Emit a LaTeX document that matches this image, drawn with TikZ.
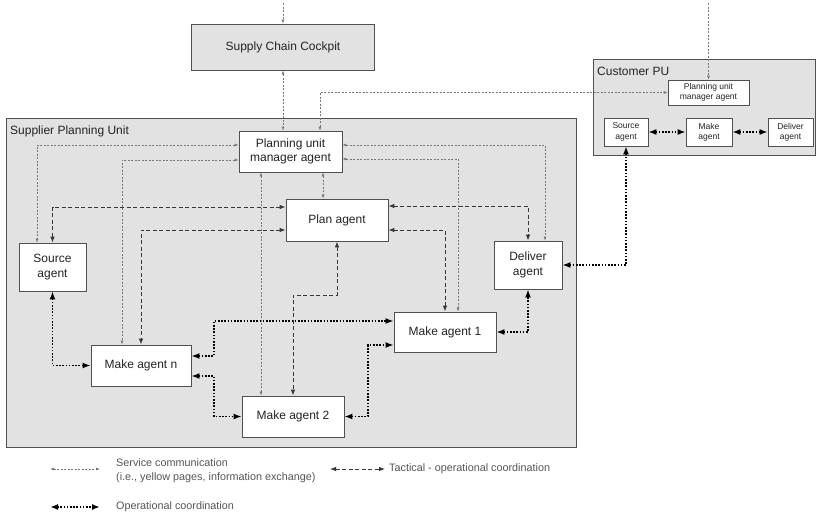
\documentclass[tikz,border=0pt]{standalone}
\usepackage{fontspec}
\setmainfont{Liberation Sans}
\usetikzlibrary{arrows.meta}
\definecolor{shade}{RGB}{226,226,226}
\definecolor{edge}{RGB}{80,80,80}
\definecolor{ink}{RGB}{35,35,35}
\definecolor{svcgray}{RGB}{120,120,120}
\definecolor{tacgray}{RGB}{55,55,55}
\definecolor{leggray}{RGB}{85,85,85}
\begin{document}
\begin{tikzpicture}[x=1pt,y=-1pt,
  panel/.style={draw=edge, line width=0.9pt, fill=shade, inner sep=0pt, text=ink, font=\fontsize{12}{14}\selectfont},
  box/.style={draw=edge, line width=0.8pt, fill=white, inner sep=0pt, align=center, text=ink, font=\fontsize{12}{14.5}\selectfont},
  small/.style={box, line width=0.6pt, font=\fontsize{8.5}{10.4}\selectfont},
  lbl/.style={inner sep=0pt, text=ink, font=\fontsize{12}{14}\selectfont},
  legend/.style={inner sep=0pt, align=left, text=leggray, font=\fontsize{10.8}{14}\selectfont},
  svc/.style={draw=svcgray, line width=0.6pt, dash pattern=on 2pt off 1.5pt, >={Latex[length=4pt,width=3pt]}, <->},
  tac/.style={draw=tacgray, line width=0.9pt, dash pattern=on 4pt off 2.5pt, >={Latex[length=6pt,width=4.5pt]}, <->},
  ops/.style={draw=black, line width=1.6pt, dash pattern=on 1.6pt off 1.6pt, >={Latex[length=8pt,width=6pt]}, <->}
]
\fill[white] (0,0) rectangle (817,517);
\useasboundingbox (0,0) rectangle (817,517);

% panels
\node[panel, minimum width=183pt, minimum height=46pt] (cockpit) at (283,47) {Supply Chain Cockpit};
\node[panel, minimum width=570pt, minimum height=329pt] (spu) at (291,282.5) {};
\node[lbl, anchor=base west] (spulabel) at (10,134) {Supplier Planning Unit};
\node[panel, minimum width=222pt, minimum height=96pt] (cpu) at (704,107) {};
\node[lbl, anchor=base west] (cpulabel) at (597,75) {Customer PU};

% supplier agents
\node[box, minimum width=103pt, minimum height=41pt] (pum) at (290.5,151.5) {Planning unit\\manager agent};
\node[box, minimum width=102pt, minimum height=42pt] (plan) at (337,220) {Plan agent};
\node[box, minimum width=67pt, minimum height=48pt] (source) at (52.5,267) {Source\\agent};
\node[box, minimum width=68pt, minimum height=48pt] (deliver) at (528,265) {Deliver\\agent};
\node[box, minimum width=102pt, minimum height=40pt] (make1) at (445,332) {Make agent 1};
\node[box, minimum width=102pt, minimum height=41pt] (make2) at (293,416.5) {Make agent 2};
\node[box, minimum width=100pt, minimum height=41pt] (maken) at (141,365.5) {Make agent n};

% customer agents
\node[small, minimum width=81pt, minimum height=25pt] (cpum) at (708.5,92.5) {Planning unit\\manager agent};
\node[small, minimum width=44pt, minimum height=28pt] (csource) at (626,132) {Source\\agent};
\node[small, minimum width=46pt, minimum height=28pt] (cmake) at (709,132) {Make\\agent};
\node[small, minimum width=45pt, minimum height=28pt] (cdeliver) at (790.5,132) {Deliver\\agent};

% service communication
\coordinate (cockpitin) at (283,3);
\coordinate (cpumin) at (708.5,3);
\draw[svc,->] (cockpitin) -- (cockpit.north);
\draw[svc,->] (cpumin) -- (cpum.north);
\draw[svc] (cockpit.south) -- (cockpit.south |- pum.north);
\draw[svc] (pum.north -| 320,0) |- (cpum.west);
\draw[svc] (pum.west |- 0,145) -| (source.north -| 37,0);
\draw[svc] (pum.west |- 0,160) -| (maken.north -| 122,0);
\draw[svc] (pum.south -| 261,0) -- (make2.north -| 261,0);
\draw[svc] (pum.south -| 323,0) -- (plan.north -| 323,0);
\draw[svc] (pum.east |- 0,145) -| (deliver.north -| 545,0);
\draw[svc] (pum.east |- 0,159) -| (make1.north -| 458,0);

% tactical - operational coordination
\draw[tac] (plan.west |- 0,207) -| (source.north);
\draw[tac] (plan.west |- 0,230) -| (maken.north);
\draw[tac] (plan.east |- 0,206) -| (deliver.north);
\draw[tac] (plan.east |- 0,230) -| (make1.north);
\draw[tac] (plan.south) -- (plan.south |- 0,295) -| (make2.north);

% operational coordination
\draw[ops] (source.south) |- (maken.west);
\draw[ops] (maken.east |- 0,356) -- (214,356) -- (214,321) -- (make1.west |- 0,321);
\draw[ops] (maken.east |- 0,376) -- (214,376) |- (make2.west);
\draw[ops] (make2.east) -- (368,416.5) -- (368,345) -- (make1.west |- 0,345);
\draw[ops] (make1.east) -| (deliver.south);
\draw[ops] (deliver.east) -| (csource.south);
\draw[ops] (csource.east) -- (cmake.west);
\draw[ops] (cmake.east) -- (cdeliver.west);

% legend
\coordinate (l1a) at (50,469); \coordinate (l1b) at (100,469);
\coordinate (l2a) at (330,469); \coordinate (l2b) at (385,469);
\coordinate (l3a) at (50,507); \coordinate (l3b) at (100,507);
\draw[svc] (l1a) -- (l1b);
\draw[tac] (l2a) -- (l2b);
\draw[ops] (l3a) -- (l3b);
\node[legend, anchor=west] (l1t) at (116,471) {Service communication\\(i.e., yellow pages, information exchange)};
\node[legend, anchor=west] (l2t) at (389,469) {Tactical - operational coordination};
\node[legend, anchor=west] (l3t) at (116,507) {Operational coordination};
\end{tikzpicture}
\end{document}
